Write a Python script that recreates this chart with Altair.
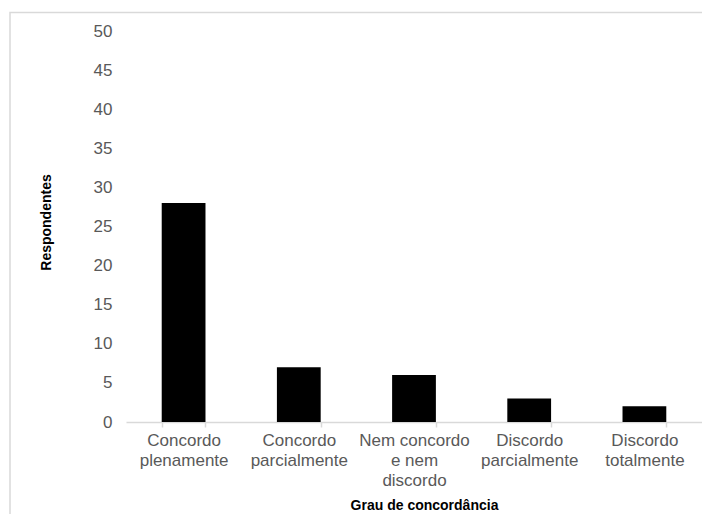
import altair as alt
import pandas as pd

categories = [
    "Concordo plenamente",
    "Concordo parcialmente",
    "Nem concordo e nem discordo",
    "Discordo parcialmente",
    "Discordo totalmente",
]
label_lines = [
    ["Concordo", "plenamente"],
    ["Concordo", "parcialmente"],
    ["Nem concordo", "e nem", "discordo"],
    ["Discordo", "parcialmente"],
    ["Discordo", "totalmente"],
]
values = [28, 7, 6, 3, 2]
y_ticks = [0, 5, 10, 15, 20, 25, 30, 35, 40, 45, 50]

df = pd.DataFrame({"cat": categories, "val": values})

mapping = ", ".join(
    "'" + c + "': [" + ", ".join("'" + l + "'" for l in lines) + "]"
    for c, lines in zip(categories, label_lines)
)
label_expr = "{" + mapping + "}[datum.label]"

FONT = "Liberation Sans"
GRAY = "#595959"

bars = alt.Chart(df).mark_bar(color="#000000").encode(
    x=alt.X(
        "cat:N",
        sort=categories,
        scale=alt.Scale(paddingInner=0.62, paddingOuter=0.31),
        axis=alt.Axis(
            title="Grau de concordância",
            titleFont=FONT,
            titleFontSize=14,
            titleFontWeight="bold",
            titleColor="#000000",
            titleX=298,
            titleY=87,
            titleBaseline="alphabetic",
            labelExpr=label_expr,
            labelAngle=0,
            labelFont=FONT,
            labelFontSize=17,
            labelColor=GRAY,
            labelLineHeight=20,
            labelPadding=5,
            labelBaseline="top",
            domainColor="#d9d9d9",
            domainWidth=1.5,
            tickColor="#d9d9d9",
            tickWidth=1.5,
            tickSize=5,
            tickBand="extent",
            grid=False,
        ),
    ),
    y=alt.Y(
        "val:Q",
        scale=alt.Scale(domain=[0, 50], nice=False),
        axis=alt.Axis(
            title="Respondentes",
            titleFont=FONT,
            titleFontSize=14,
            titleFontWeight="bold",
            titleColor="#000000",
            titleX=-80,
            titleY=191,
            titleBaseline="middle",
            values=y_ticks,
            labelFont=FONT,
            labelFontSize=17,
            labelColor=GRAY,
            labelPadding=14,
            domain=False,
            ticks=False,
            grid=False,
        ),
    ),
)

border = alt.Chart(pd.DataFrame({"k": [0]})).mark_rect(
    fill="transparent", stroke="#d9d9d9", strokeWidth=1.5
).encode(
    x=alt.value(-116),
    x2=alt.value(700),
    y=alt.value(-18.5),
    y2=alt.value(520),
)

chart = alt.layer(border, bars).properties(
    width=576,
    height=391,
    autosize=alt.AutoSizeParams(type="none"),
    padding={"left": 118, "top": 23, "right": 0, "bottom": 92},
).configure_view(stroke=None)

chart.save("out.html", embed_options={"renderer": "svg", "actions": False})
